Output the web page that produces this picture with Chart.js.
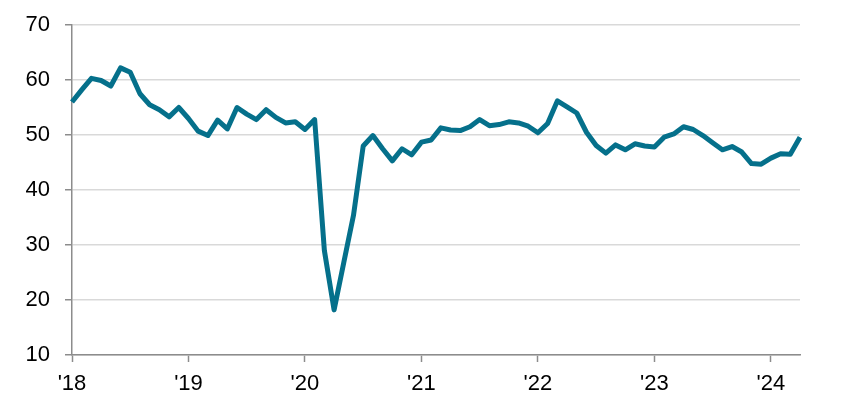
<!DOCTYPE html>
<html>
<head>
<meta charset="utf-8">
<script src="https://cdn.jsdelivr.net/npm/chart.js@4.4.1/dist/chart.umd.min.js"></script>
<style>
  html, body { margin: 0; padding: 0; background: #fff; }
  #wrap { width: 845px; height: 408px; position: relative; }
</style>
</head>
<body>
<div id="wrap"><canvas id="chart"></canvas></div>
<script>
// monthly index values, Jan 2018 .. Apr 2024
const START_YEAR = 2018;
const yearTicks = ["'18", "'19", "'20", "'21", "'22", "'23", "'24"];
const values = [
  56.0, 58.2, 60.3, 59.9, 58.9, 62.2, 61.4, 57.5, 55.5, 54.6, 53.3, 55.0,
  53.0, 50.7, 49.9, 52.7, 51.1, 55.0, 53.8, 52.8, 54.6, 53.2, 52.2, 52.4,
  51.0, 52.8, 29.0, 18.2, 26.8, 35.4, 48.0, 49.9, 47.5, 45.3, 47.5, 46.4,
  48.7, 49.1, 51.3, 50.9, 50.8, 51.5, 52.8, 51.7, 51.9, 52.4, 52.2, 51.6,
  50.4, 52.1, 56.2, 55.1, 54.0, 50.5, 48.1, 46.7, 48.2, 47.3, 48.4, 48.0,
  47.8, 49.6, 50.2, 51.5, 51.0, 49.9, 48.6, 47.3, 47.9, 46.9, 44.8, 44.7,
  45.8, 46.6, 46.5, 49.6,
];
const months = values.map((_, i) => (START_YEAR + Math.floor(i / 12)) + '-' + String(i % 12 + 1).padStart(2, '0'));

const AXIS_GRAY = '#8c8c8c';
const GRID_GRAY = '#d9d9d9';
const FONT = { family: '"Liberation Sans", Arial, sans-serif', size: 22 };

new Chart(document.getElementById('chart'), {
  type: 'line',
  data: {
    labels: months,
    datasets: [{
      data: values,
      borderColor: '#05708b',
      borderWidth: 5,
      borderJoinStyle: 'round',
      pointRadius: 0,
      tension: 0,
      fill: false,
    }],
  },
  options: {
    responsive: true,
    maintainAspectRatio: false,
    animation: false,
    events: [],
    layout: { padding: { top: 25, right: 45, left: 0, bottom: 0 } },
    plugins: { legend: { display: false }, tooltip: { enabled: false } },
    scales: {
      x: {
        type: 'category',
        offset: false,
        border: { color: AXIS_GRAY, width: 1.5 },
        grid: { drawOnChartArea: false, tickLength: 7, tickColor: AXIS_GRAY, tickWidth: 1.5 },
        ticks: {
          autoSkip: false, maxRotation: 0, padding: 9, color: '#000', font: FONT,
          callback: v => yearTicks[v / 12],
        },
        afterBuildTicks: s => { s.ticks = s.ticks.filter(t => t.value % 12 === 0); },
        afterFit: s => { s.height = 53; s.paddingLeft = 0; s.paddingRight = 0; },
      },
      y: {
        min: 10, max: 70,
        border: { color: AXIS_GRAY, width: 1.5 },
        grid: { color: GRID_GRAY, lineWidth: 1.5, tickLength: 7, tickColor: AXIS_GRAY, tickWidth: 1.5 },
        ticks: { stepSize: 10, padding: 15, color: '#000', font: FONT },
        afterFit: s => { s.width = 72; s.paddingTop = 0; s.paddingBottom = 0; },
      },
    },
  },
});
</script>
</body>
</html>
